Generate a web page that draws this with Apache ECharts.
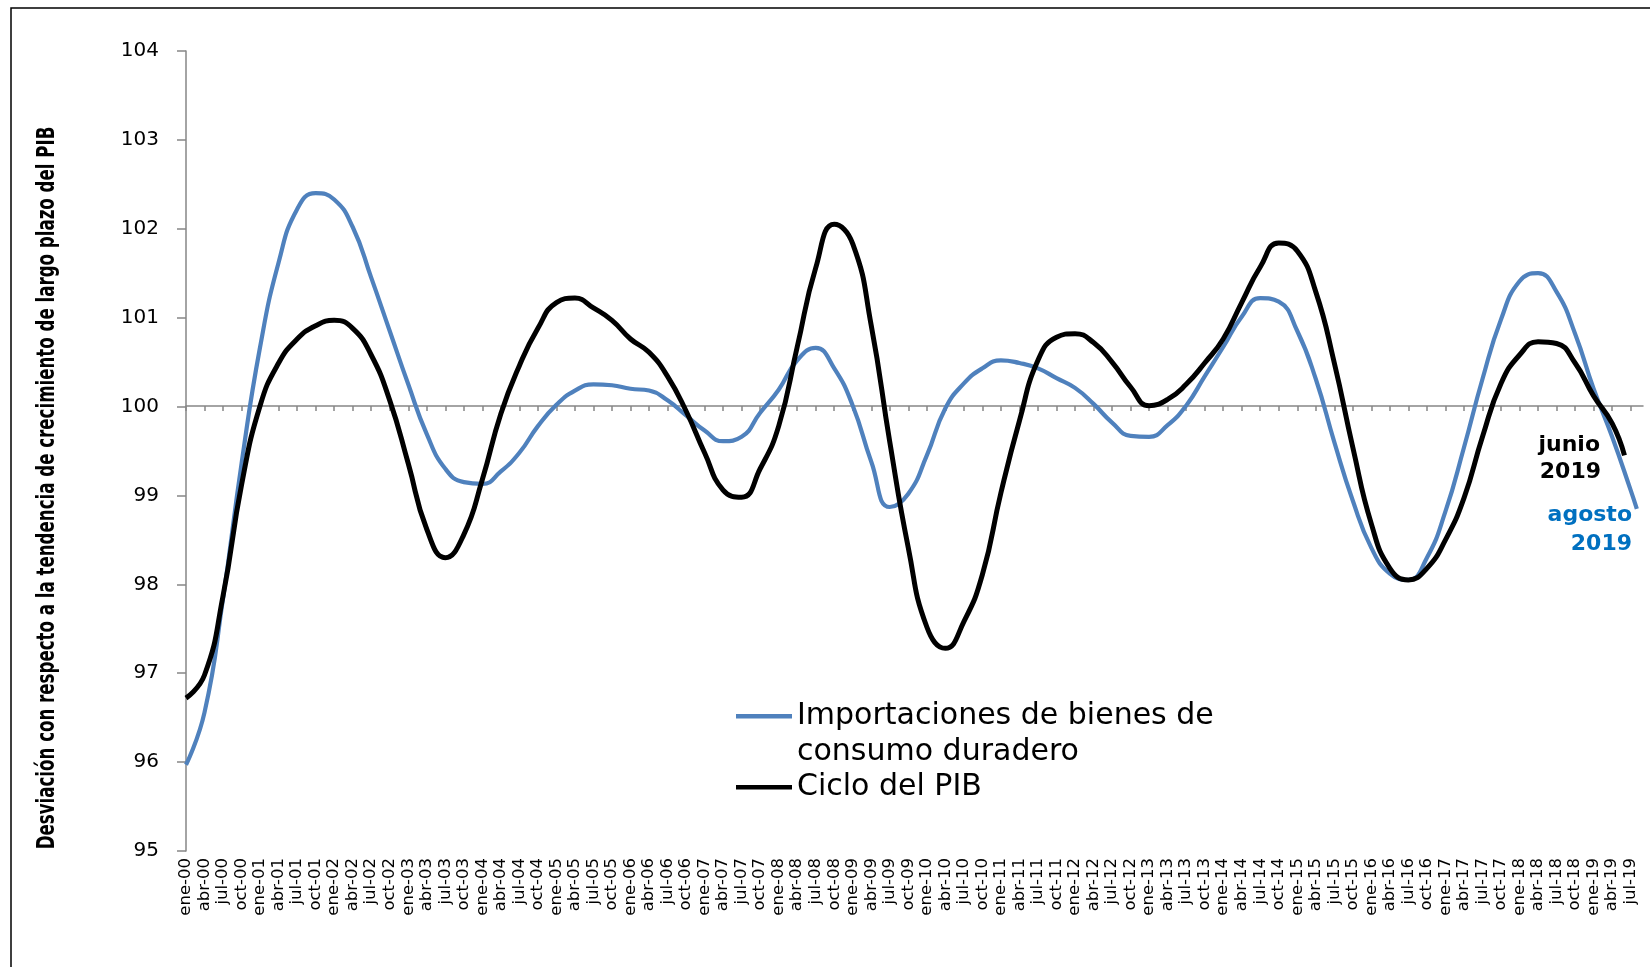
<!DOCTYPE html>
<html>
<head>
<meta charset="utf-8">
<script src="https://cdn.jsdelivr.net/npm/echarts@6/dist/echarts.min.js"></script>
<style>
html, body { margin: 0; padding: 0; background: #fff; }
#chart { width: 1650px; height: 967px; }
</style>
</head>
<body>
<div id="chart"></div>
<script>
// etiquetas trimestrales (ene-00 ... jul-19), un punto cada 3 meses
const quarterNames = ['ene', 'abr', 'jul', 'oct']
const years = ['00', '01', '02', '03', '04', '05', '06', '07', '08', '09',
  '10', '11', '12', '13', '14', '15', '16', '17', '18', '19']
const quarterLabels = []
years.forEach(y => quarterNames.forEach(m => quarterLabels.push(m + '-' + y)))
quarterLabels.splice(79) // hasta jul-19

// Importaciones de bienes de consumo duradero (valor trimestral, ene-00 ... jul-19)
const importQ = [
  95.97, 96.56, 97.84, 99.36, 100.67, 101.62, 102.22, 102.40, 102.33, 102.02,
  101.45, 100.85, 100.25, 99.69, 99.30, 99.15, 99.13, 99.27, 99.48, 99.78,
  100.02, 100.18, 100.25, 100.24, 100.20, 100.18, 100.07, 99.90, 99.73, 99.61,
  99.66, 99.93, 100.19, 100.52, 100.66, 100.43, 100.01, 99.38, 98.87, 99.02,
  99.45, 99.98, 100.26, 100.43, 100.52, 100.49, 100.43, 100.32, 100.21, 100.03,
  99.82, 99.67, 99.66, 99.79, 100.01, 100.34, 100.67, 101.01, 101.22, 101.18,
  100.85, 100.31, 99.60, 98.94, 98.41, 98.12, 98.05, 98.30, 98.82, 99.54,
  100.31, 100.98, 101.41, 101.50, 101.29, 100.82, 100.20, 99.66, 99.06
]
const importEnd = [235, 98.85] // agosto 2019

// Ciclo del PIB (valor trimestral, ene-00 ... abr-19)
const pibQ = [
  96.72, 96.98, 97.87, 99.12, 100.01, 100.49, 100.76, 100.91, 100.97, 100.88,
  100.58, 100.07, 99.36, 98.62, 98.30, 98.56, 99.18, 99.92, 100.46, 100.88,
  101.17, 101.22, 101.11, 100.97, 100.76, 100.61, 100.34, 99.95, 99.48, 99.06,
  98.98, 99.30, 99.78, 100.67, 101.56, 102.05, 101.83, 100.91, 99.60, 98.41,
  97.52, 97.28, 97.58, 98.11, 99.03, 99.84, 100.52, 100.78, 100.82, 100.72,
  100.50, 100.22, 100.01, 100.08, 100.25, 100.49, 100.76, 101.17, 101.57, 101.84,
  101.75, 101.29, 100.49, 99.54, 98.68, 98.18, 98.05, 98.18, 98.50, 98.97,
  99.66, 100.26, 100.58, 100.73, 100.71, 100.49, 100.12, 99.81
]
const pibEnd = [233, 99.45] // junio 2019

const importName = 'Importaciones de bienes de consumo duradero'
const pibName = 'Ciclo del PIB'
const yTitle = 'Desviación con respecto a la tendencia de crecimiento de largo plazo del PIB'

const labelMonths = quarterLabels.map((_, i) => i * 3)
const importData = importQ.map((v, i) => [i * 3, v]).concat([importEnd])
const pibData = pibQ.map((v, i) => [i * 3, v]).concat([pibEnd])

const chart = echarts.init(document.getElementById('chart'))

const noteFont = 'bold 22px "DejaVu Sans"'

chart.setOption({
  animation: false,
  grid: { left: 186, right: 7, top: 51, bottom: 116 },
  xAxis: [
    {
      type: 'value', min: 0, max: 236, interval: 3, position: 'bottom',
      axisLine: { show: false },
      axisTick: { show: false },
      splitLine: { show: false },
      axisLabel: {
        customValues: labelMonths,
        formatter: v => quarterLabels[v / 3] || '',
        rotate: 90, margin: 7, fontSize: 16.5, color: '#000',
        fontFamily: 'DejaVu Sans'
      }
    },
    {
      // eje en 100 con marcas trimestrales
      type: 'value', min: 0, max: 236, interval: 3, position: 'bottom', offset: -445,
      axisLine: { show: true, lineStyle: { color: '#868686', width: 1.5 } },
      axisTick: { show: true, customValues: labelMonths, length: 5, lineStyle: { color: '#868686', width: 1.5 } },
      axisLabel: { show: false },
      splitLine: { show: false }
    }
  ],
  yAxis: {
    type: 'value', min: 95, max: 104, interval: 1,
    axisLine: { show: true, lineStyle: { color: '#868686', width: 1.5 } },
    axisTick: { show: true, length: 9, lineStyle: { color: '#868686', width: 1.5 } },
    splitLine: { show: false },
    axisLabel: { fontSize: 20, color: '#000', margin: 27, fontFamily: 'DejaVu Sans' }
  },
  legend: {
    orient: 'vertical', left: 731, top: 658,
    icon: 'rect', itemWidth: 56, itemHeight: 4.5, itemGap: 0,
    textStyle: { fontSize: 30, lineHeight: 35.5, color: '#000', fontFamily: 'DejaVu Sans' },
    // la línea vacía inicial deja el símbolo a la altura de la primera línea
    formatter: name => name === importName ? '\nImportaciones de bienes de\nconsumo duradero' : name,
    data: [importName, pibName]
  },
  graphic: [
    {
      type: 'rect', silent: true,
      shape: { x: 11, y: 8, width: 1700, height: 1000 },
      style: { fill: 'none', stroke: '#000', lineWidth: 1.5 }
    },
    {
      type: 'text', x: 47, y: 488, rotation: Math.PI / 2, scaleX: 0.74,
      style: {
        text: yTitle, fill: '#000', align: 'center', verticalAlign: 'middle',
        font: 'bold 25px "DejaVu Sans Condensed", "DejaVu Sans"'
      }
    },
    { type: 'text', right: 50, top: 434, style: { text: 'junio', fill: '#000', font: noteFont } },
    { type: 'text', right: 49, top: 461, style: { text: '2019', fill: '#000', font: noteFont } },
    { type: 'text', right: 18, top: 504, style: { text: 'agosto', fill: '#0070C0', font: noteFont } },
    { type: 'text', right: 18, top: 533, style: { text: '2019', fill: '#0070C0', font: noteFont } }
  ],
  series: [
    {
      name: importName, type: 'line', smooth: true, symbol: 'none',
      lineStyle: { color: '#4F81BD', width: 4.2 },
      itemStyle: { color: '#4F81BD' },
      data: importData, z: 2
    },
    {
      name: pibName, type: 'line', smooth: true, symbol: 'none',
      lineStyle: { color: '#000', width: 5 },
      itemStyle: { color: '#000' },
      data: pibData, z: 3
    }
  ]
})
</script>
</body>
</html>
